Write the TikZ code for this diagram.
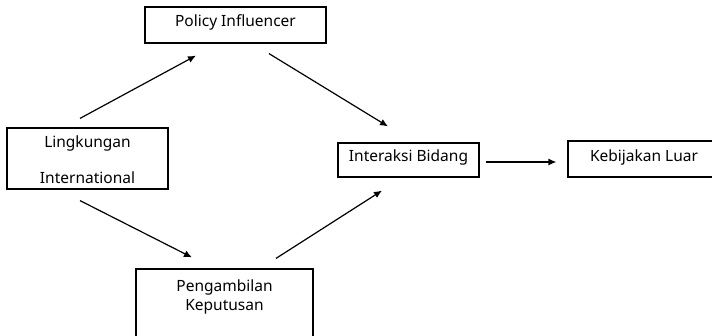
\documentclass[tikz,border=0pt]{standalone}
\usepackage{fontspec}
\setmainfont{Noto Sans}
\usetikzlibrary{arrows.meta,positioning,calc}
\begin{document}
\begin{tikzpicture}
[x=1pt,y=-1pt,
  boxdecorate/.style={shape=rectangle,draw,line width=1.2pt,inner sep=0pt,align=center},%
  textdecorate/.style={font=\fontsize{15.5}{19}\selectfont,align=center,inner sep=0pt},%
  linedecorate/.style={-{Latex[length=8pt,width=7pt]},line width=1.2pt}]
\useasboundingbox (0,0) rectangle (712,335);
\clip (0,0) rectangle (712,335);
%% boxes
\node (policy) at (235.5,25) [boxdecorate,minimum width=181pt,minimum height=36pt] {};
\node (ling) at (87.5,158.5) [boxdecorate,minimum width=161pt,minimum height=61pt] {};
\node (peng) at (224.5,309) [boxdecorate,minimum width=177pt,minimum height=80pt] {};
\node (interaksi) at (408.5,160) [boxdecorate,minimum width=141pt,minimum height=34pt] {};
\node (kebijakan) at (649,159) [boxdecorate,minimum width=162pt,minimum height=36pt] {};
%% texts
\node at (235.5,22) [textdecorate] {Policy Influencer};
\node at (87.5,160) [textdecorate] {Lingkungan\\[17pt]International};
\node at (224.5,296.5) [textdecorate] {Pengambilan\\Keputusan};
\node at (408.5,157) [textdecorate] {Interaksi Bidang};
\node at (644,157) [textdecorate] {Kebijakan Luar};
%% arrows
\foreach \startnode/\sx/\sy/\endnode/\ex/\ey in {
  ling.north/-7.5/-9/policy.south/-39.5/12,
  policy.south/33.5/10/interaksi.north/-20.5/-16,
  ling.south/-7.5/11/peng.north/-32.5/-11,
  peng.north/51.5/-10/interaksi.south/-26.5/13,
  interaksi.east/6/2/kebijakan.west/-11/3}
{
  \draw [linedecorate] ($(\startnode)+(\sx,\sy)$) -- ($(\endnode)+(\ex,\ey)$);
}
\end{tikzpicture}
\end{document}
